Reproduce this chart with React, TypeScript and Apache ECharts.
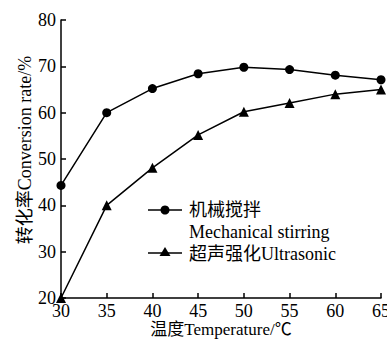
import React, { useEffect, useRef } from "react";
import * as echarts from "echarts";

const temperatures = [30, 35, 40, 45, 50, 55, 60, 65];
const mechanical = [44.3, 60.0, 65.2, 68.4, 69.8, 69.3, 68.1, 67.1];
const ultrasonic = [20.0, 40.0, 48.1, 55.2, 60.2, 62.1, 64.0, 65.0];
const seriesNames = ["机械搅拌 Mechanical stirring", "超声强化Ultrasonic"];
const xAxisName = "温度Temperature/℃";
const yAxisName = "转化率Conversion rate/%";

const FONT = "'Liberation Serif', 'Times New Roman', 'Noto Sans CJK SC', serif";

export default function App() {
  const ref = useRef<HTMLDivElement>(null);
  useEffect(() => {
    if (!ref.current) return;
    const chart = echarts.init(ref.current, null, { renderer: "svg" });
    const axisLine = { show: true, lineStyle: { color: "#000", width: 1.5 } };
    const axisTick = { show: true, inside: true, length: 5, lineStyle: { color: "#000", width: 1.5 } };
    const labelStyle = { color: "#000", fontSize: 18, fontFamily: FONT };
    const legendText = { fill: "#000", fontSize: 18, fontFamily: FONT };
    chart.setOption({
      animation: false,
      backgroundColor: "#fff",
      grid: { left: 61, right: 6, top: 20, bottom: 42, outerBoundsMode: "none", containLabel: false },
      xAxis: {
        type: "value",
        min: 30,
        max: 65,
        interval: 5,
        name: xAxisName,
        nameLocation: "middle",
        nameGap: 23,
        nameMoveOverlap: false,
        nameTextStyle: { ...labelStyle, fontSize: 17, lineHeight: 17 },
        axisLine,
        axisTick,
        splitLine: { show: false },
        axisLabel: { ...labelStyle, margin: 4 },
      },
      yAxis: {
        type: "value",
        min: 20,
        max: 80,
        interval: 10,
        name: yAxisName,
        nameLocation: "middle",
        nameGap: 27,
        nameMoveOverlap: false,
        nameTextStyle: { ...labelStyle, padding: [0, 0, 0, 18] },
        axisLine,
        axisTick,
        splitLine: { show: false },
        axisLabel: { ...labelStyle, margin: 5 },
      },
      series: [
        {
          name: seriesNames[0],
          type: "line",
          data: temperatures.map((t, i) => [t, mechanical[i]]),
          symbol: "circle",
          symbolSize: 9,
          lineStyle: { color: "#000", width: 1.5 },
          itemStyle: { color: "#000" },
        },
        {
          name: seriesNames[1],
          type: "line",
          data: temperatures.map((t, i) => [t, ultrasonic[i]]),
          symbol: "triangle",
          symbolSize: 10,
          lineStyle: { color: "#000", width: 1.5 },
          itemStyle: { color: "#000" },
        },
      ],
      graphic: [
        { type: "line", shape: { x1: 148, y1: 210, x2: 182, y2: 210 }, style: { stroke: "#000", lineWidth: 1.5 } },
        { type: "circle", shape: { cx: 165, cy: 210, r: 4.5 }, style: { fill: "#000" } },
        { type: "text", x: 189, y: 210, style: { ...legendText, text: "机械搅拌", verticalAlign: "middle" } },
        { type: "text", x: 189, y: 232, style: { ...legendText, text: "Mechanical stirring", verticalAlign: "middle" } },
        { type: "line", shape: { x1: 148, y1: 253, x2: 182, y2: 253 }, style: { stroke: "#000", lineWidth: 1.5 } },
        { type: "polygon", shape: { points: [[165, 247], [170.5, 256], [159.5, 256]] }, style: { fill: "#000" } },
        { type: "text", x: 189, y: 254, style: { ...legendText, text: "超声强化Ultrasonic", verticalAlign: "middle" } },
      ],
    });
    return () => chart.dispose();
  }, []);
  return <div ref={ref} style={{ width: 387, height: 340, position: "absolute", left: 0, top: 0 }} />;
}
